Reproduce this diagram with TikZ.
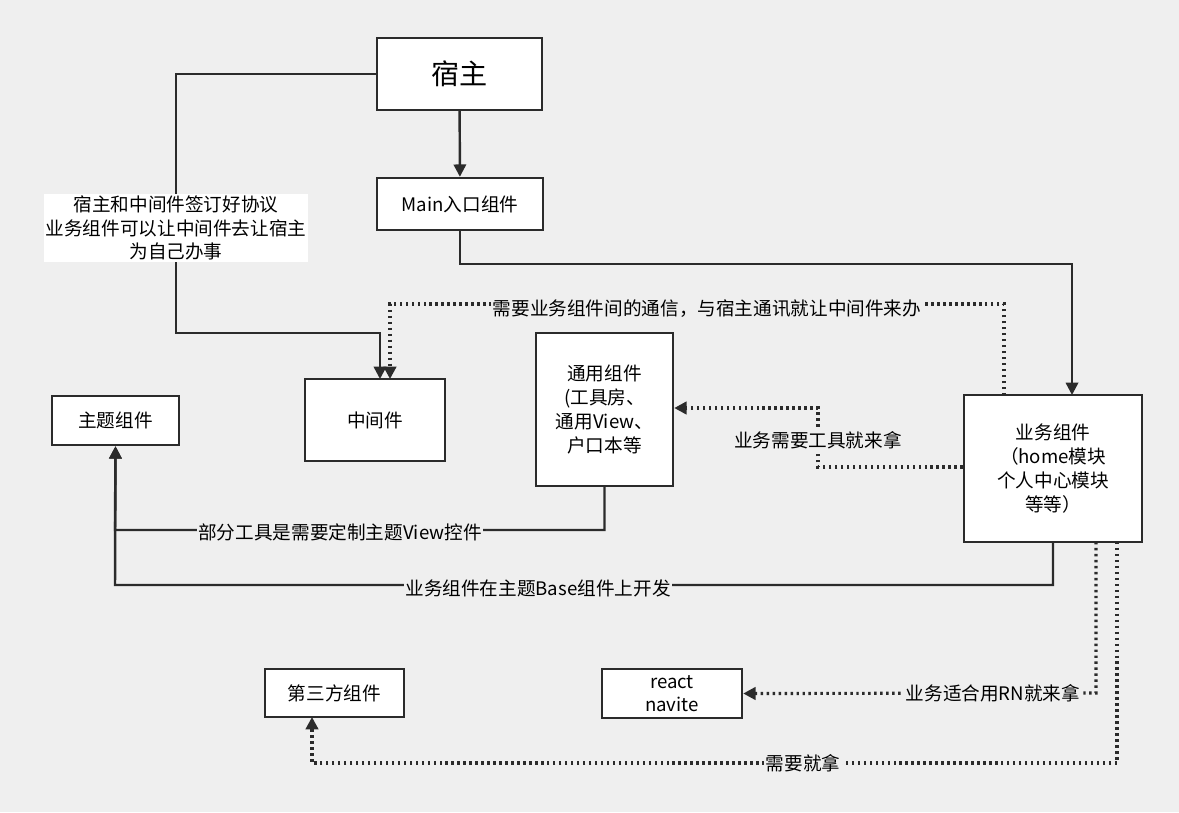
\documentclass[tikz,border=0pt]{standalone}
\usepackage{fontspec}
\setmainfont{Noto Sans CJK SC}
\usetikzlibrary{arrows.meta}
\definecolor{bgc}{HTML}{EFEFEF}
\definecolor{linec}{HTML}{2B2B2B}
\begin{document}
\begin{tikzpicture}[x=0.02cm,y=-0.02cm,
  box/.style={draw=linec, line width=1.4pt, fill=white, align=center, inner sep=0pt,
    font=\fontsize{10.6}{13.5}\selectfont},
  link/.style={draw=linec, line width=1.4pt, -{Triangle[length=7pt,width=7pt]}},
  dlink/.style={link, dotted, line width=1.8pt},
  tag/.style={fill=bgc, inner sep=1pt, align=center, font=\fontsize{10.6}{13.5}\selectfont}]
\useasboundingbox[fill=bgc] (0,0) rectangle (1179,812);

% boxes
\node[box, minimum width=3.3cm, minimum height=1.44cm, font=\fontsize{16}{19}\selectfont] (host) at (459.5,74) {宿主};
\node[box, minimum width=3.32cm, minimum height=1.04cm] (main) at (460,204) {Main入口组件};
\node[box, minimum width=2.8cm, minimum height=1.64cm] (mid) at (375,420) {中间件};
\node[box, minimum width=2.54cm, minimum height=0.98cm] (theme) at (115.5,420.5) {主题组件};
\node[box, minimum width=2.74cm, minimum height=3.06cm] (common) at (604.5,409.5) {通用组件\\(工具房、\\通用View、\\户口本等};
\node[box, minimum width=3.56cm, minimum height=2.94cm] (biz) at (1053,468.5) {业务组件\\（home模块\\个人中心模块\\等等）};
\node[box, minimum width=2.8cm, minimum height=0.98cm] (rn) at (672,693.5) {react\\navite};
\node[box, minimum width=2.78cm, minimum height=0.96cm] (third) at (334.5,693) {第三方组件};

% solid links
\draw[link] (host.west) -- (176,74) -- (176,333) -- (380,333) -- (380,379);
\node[tag, fill=white] at (176,228) {宿主和中间件签订好协议\\业务组件可以让中间件去让宿主\\为自己办事};
\draw[link] (host) -- (main);
\draw[link] (main.south) -- (460,264) -- (1072,264) -- (1072,395);
\draw[link] (common.south) -- (604.5,530) -- (115,530) -- (theme.south);
\draw[link] (1053,542) -- (1053,585) -- (115,585) -- (theme.south);
\node[tag] at (340,532) {部分工具是需要定制主题View控件};
\node[tag] at (538,588) {业务组件在主题Base组件上开发};

% dotted links
\draw[dlink] (1004,395) -- (1004,304) -- (390,304) -- (390,379);
\node[tag] at (707,309) {需要业务组件间的通信，与宿主通讯就让中间件来办};
\draw[dlink] (biz.west |- 0,467) -- (818,467) -- (818,408) -- (common.east |- 0,408);
\node[tag] at (818,440) {业务需要工具就来拿};
\draw[dlink] (1096,542) -- (1096,693) -- (rn.east);
\node[tag] at (993,693) {业务适合用RN就来拿};
\draw[dlink] (1117,542) -- (1117,763) -- (312,763) -- (312,717);
\node[tag] at (803,763) {需要就拿};
\end{tikzpicture}
\end{document}
